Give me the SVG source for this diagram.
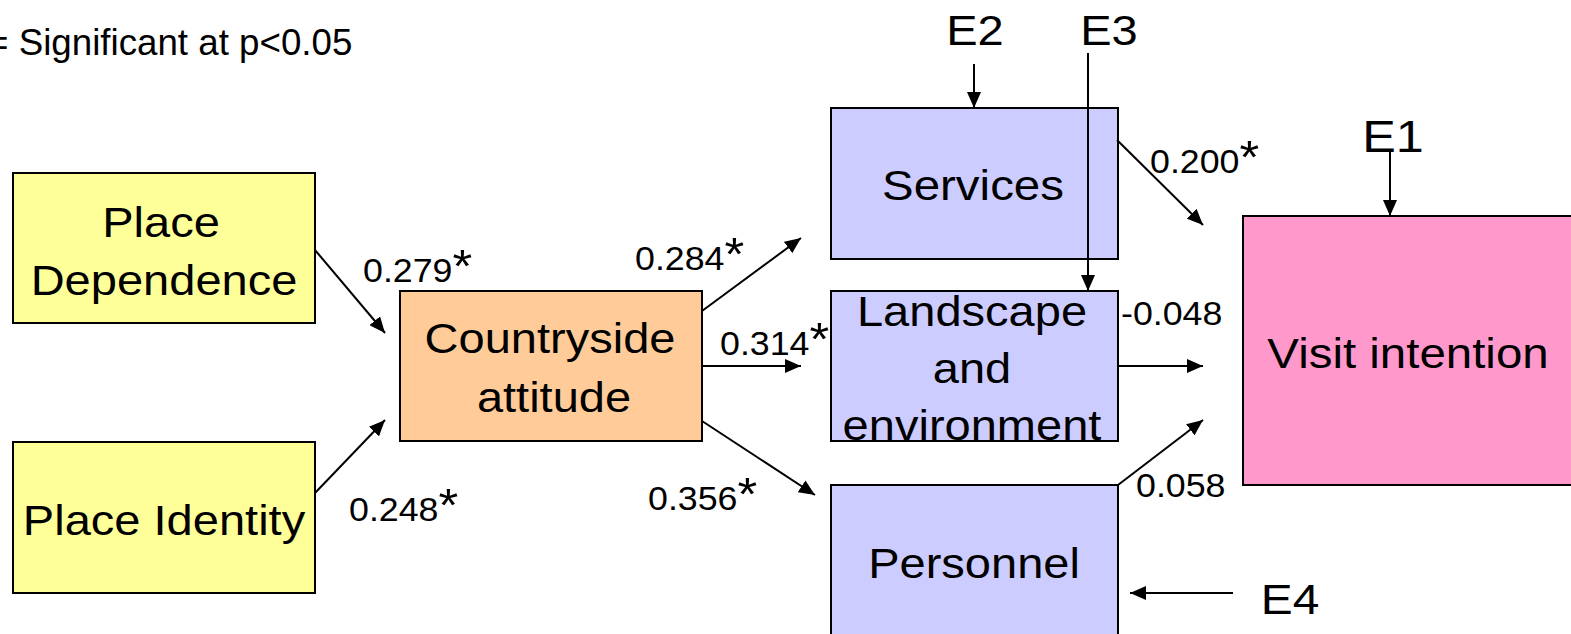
<svg xmlns="http://www.w3.org/2000/svg" width="1571" height="634" viewBox="0 0 1571 634">
<defs>
<style>
.box{stroke:#000;stroke-width:2}
.yel{fill:#FFFF99}
.org{fill:#FFCC99}
.lav{fill:#CCCCFF}
.pnk{fill:#FF99CC}
text{font-family:"Liberation Sans",Arial,sans-serif;fill:#000}
.nt{font-size:42px;text-anchor:middle}
.lb{font-size:32.5px}
.ast{font-size:46px}
.conn line{stroke:#000;stroke-width:2;marker-end:url(#ah)}
</style>
<marker id="ah" markerUnits="userSpaceOnUse" markerWidth="16" markerHeight="14" refX="16" refY="7" orient="auto">
<path d="M0,0 L16,7 L0,14 z" fill="#000"/>
</marker>
</defs>
<rect width="1571" height="634" fill="#fff"/>

<text id="legend" transform="translate(-13,55) scale(1.02,1)" style="font-size:36px">= Significant at p&lt;0.05</text>

<g id="place-dependence">
<rect class="box yel" x="13" y="173" width="302" height="150"/>
<text class="nt" transform="translate(161,237) scale(1.12,1)">Place</text>
<text class="nt" transform="translate(164,295) scale(1.12,1)">Dependence</text>
</g>
<g id="place-identity">
<rect class="box yel" x="13" y="442" width="302" height="151"/>
<text class="nt" transform="translate(164,535) scale(1.12,1)">Place Identity</text>
</g>
<g id="countryside-attitude">
<rect class="box org" x="400" y="291" width="302" height="150"/>
<text class="nt" transform="translate(550,353) scale(1.12,1)">Countryside</text>
<text class="nt" transform="translate(554,412) scale(1.12,1)">attitude</text>
</g>
<g id="services">
<rect class="box lav" x="831" y="108" width="287" height="151"/>
<text class="nt" transform="translate(973,200) scale(1.13,1)">Services</text>
</g>
<g id="landscape">
<rect class="box lav" x="831" y="291" width="287" height="150"/>
<text class="nt" transform="translate(972,326) scale(1.12,1)">Landscape</text>
<text class="nt" transform="translate(972,383) scale(1.12,1)">and</text>
<text class="nt" transform="translate(972,440) scale(1.12,1)">environment</text>
</g>
<g id="personnel">
<rect class="box lav" x="831" y="485" width="287" height="160"/>
<text class="nt" transform="translate(974,578) scale(1.12,1)">Personnel</text>
</g>
<g id="visit-intention">
<rect class="box pnk" x="1243" y="216" width="340" height="269"/>
<text class="nt" transform="translate(1408,368) scale(1.13,1)">Visit intention</text>
</g>

<g id="E2"><text class="nt" transform="translate(975,45) scale(1.12,1)">E2</text></g>
<g id="E3"><text class="nt" transform="translate(1109,45) scale(1.12,1)">E3</text></g>
<g id="E1"><text class="nt" transform="translate(1393,152) scale(1.12,1)" style="font-size:45px">E1</text></g>
<g id="E4"><text class="nt" transform="translate(1290,614) scale(1.14,1)">E4</text></g>

<g id="connectors" class="conn">
<line x1="315" y1="250" x2="385" y2="333"/>
<line x1="315" y1="493" x2="385" y2="420"/>
<line x1="702" y1="311" x2="801" y2="238"/>
<line x1="702" y1="366" x2="801" y2="366"/>
<line x1="702" y1="421" x2="815" y2="495"/>
<line x1="974" y1="64" x2="974" y2="108"/>
<line x1="1088" y1="53" x2="1088" y2="291"/>
<line x1="1117" y1="140" x2="1203" y2="225"/>
<line x1="1118" y1="366" x2="1203" y2="366"/>
<line x1="1118" y1="485" x2="1203" y2="420"/>
<line x1="1233" y1="593" x2="1130" y2="593"/>
<line x1="1390" y1="152" x2="1390" y2="216"/>
</g>

<g id="labels">
<text class="lb" transform="translate(363,282) scale(1.1,1)">0.279<tspan class="ast" dy="0">*</tspan></text>
<text class="lb" transform="translate(349,521) scale(1.1,1)">0.248<tspan class="ast" dy="0">*</tspan></text>
<text class="lb" transform="translate(635,270) scale(1.1,1)">0.284<tspan class="ast" dy="0">*</tspan></text>
<text class="lb" transform="translate(720,355) scale(1.1,1)">0.314<tspan class="ast" dy="0">*</tspan></text>
<text class="lb" transform="translate(648,510) scale(1.1,1)">0.356<tspan class="ast" dy="0">*</tspan></text>
<text class="lb" transform="translate(1150,173) scale(1.1,1)">0.200<tspan class="ast" dy="0">*</tspan></text>
<text class="lb" transform="translate(1121,325) scale(1.1,1)">-0.048</text>
<text class="lb" transform="translate(1136,497) scale(1.1,1)">0.058</text>
</g>
</svg>
